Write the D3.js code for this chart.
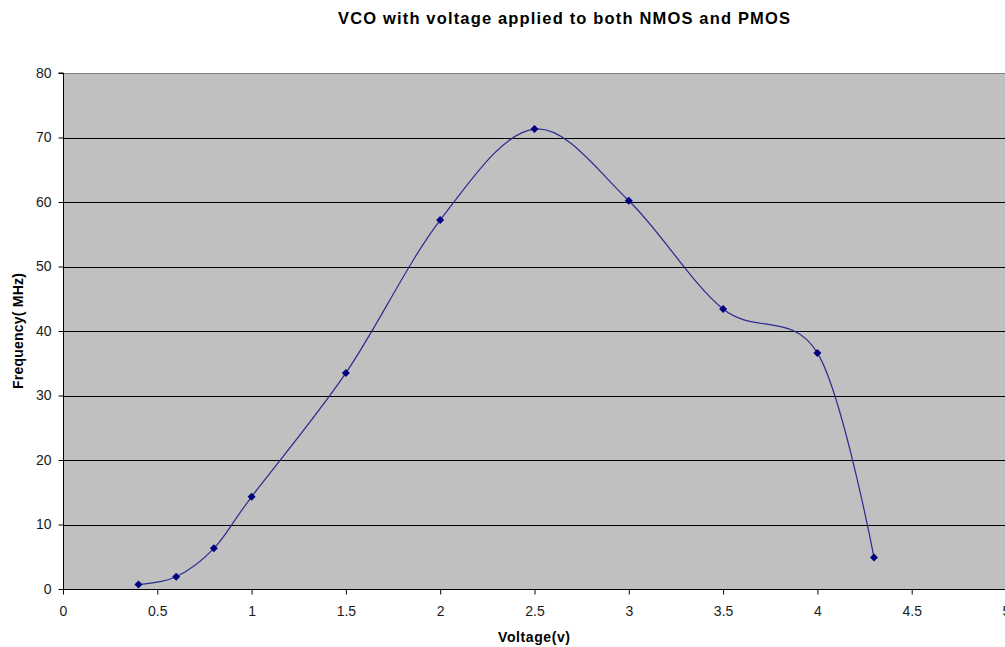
<!DOCTYPE html>
<html><head><meta charset="utf-8">
<script src="https://cdn.jsdelivr.net/npm/d3@7"></script>
<style>
body{margin:0;background:#fff;}
svg{display:block;font-family:"Liberation Sans",Arial,sans-serif;}
</style></head>
<body><svg id="c" width="1005" height="647"></svg>
<script>
const voltages = [0.4, 0.6, 0.8, 1.0, 1.5, 2.0, 2.5, 3.0, 3.5, 4.0, 4.3];
const frequencies = [0.7, 1.9, 6.3, 14.3, 33.5, 57.2, 71.3, 60.2, 43.4, 36.6, 4.9];
const xTicks = [0, 0.5, 1, 1.5, 2, 2.5, 3, 3.5, 4, 4.5, 5];
const yTicks = [0, 10, 20, 30, 40, 50, 60, 70, 80];
const titleText = "VCO with voltage applied to both NMOS and PMOS";
const xLabel = "Voltage(v)";
const yLabel = "Frequency( MHz)";

const svg = d3.select("#c");
const L = 63, R = 1006, T = 73, B = 589;
const x = d3.scaleLinear().domain([0, 5]).range([L, R]);
const y = d3.scaleLinear().domain([0, 80]).range([B, T]);

svg.append("rect").attr("x", L).attr("y", T).attr("width", R - L).attr("height", B - T).attr("fill", "#c0c0c0");

// gridlines
svg.append("g").selectAll("line").data(yTicks.filter(d => d > 0)).join("line")
  .attr("x1", L).attr("x2", R).attr("y1", d => Math.round(y(d)) + 0.5).attr("y2", d => Math.round(y(d)) + 0.5)
  .attr("stroke", d => d === 80 ? "#808080" : "#000").attr("stroke-width", 1);

// axes
const yAxis = svg.append("g").attr("transform", `translate(${L + 0.5},0)`)
  .call(d3.axisLeft(y).tickValues(yTicks).tickSize(5).tickPadding(7).tickFormat(d3.format("d")));
const xAxis = svg.append("g").attr("transform", `translate(0,${B + 0.5})`)
  .call(d3.axisBottom(x).tickValues(xTicks).tickSize(5).tickPadding(12).tickFormat(d => String(d)));
[yAxis, xAxis].forEach(a => {
  a.select(".domain").attr("stroke", "#000");
  a.selectAll(".tick line").attr("stroke", "#000");
  a.selectAll("text").attr("font-size", 14).attr("fill", "#1a1a1a").attr("font-family", "Liberation Sans, Arial, sans-serif");
});
yAxis.select(".domain").attr("d", `M-5,${T}H0V${B}`);
xAxis.select(".domain").attr("d", `M${L},0H${R}`);

// line
const pts = voltages.map((v, i) => [v, frequencies[i]]);
svg.append("path").datum(pts)
  .attr("fill", "none").attr("stroke", "#2a2a90").attr("stroke-width", 1.2)
  .attr("d", d3.line().x(d => x(d[0])).y(d => y(d[1])).curve(d3.curveCardinal.tension(0)));

// markers
svg.append("g").selectAll("path").data(pts).join("path")
  .attr("transform", d => `translate(${x(d[0])},${y(d[1])})`)
  .attr("d", "M0,-4L4,0L0,4L-4,0Z").attr("fill", "#000080");

// labels
svg.append("text").attr("x", 564).attr("y", 24).attr("text-anchor", "middle")
  .attr("font-size", 16.5).attr("font-weight", "bold").attr("fill", "#000")
  .attr("textLength", 452).attr("lengthAdjust", "spacing").text(titleText);
svg.append("text").attr("x", 534).attr("y", 642).attr("text-anchor", "middle")
  .attr("font-size", 14).attr("font-weight", "bold").attr("fill", "#000")
  .attr("textLength", 72).attr("lengthAdjust", "spacing").text(xLabel);
svg.append("text").attr("transform", "translate(23,331) rotate(-90)").attr("text-anchor", "middle")
  .attr("font-size", 14).attr("font-weight", "bold").attr("fill", "#000")
  .attr("textLength", 116).attr("lengthAdjust", "spacing").text(yLabel);
</script>
</body></html>
